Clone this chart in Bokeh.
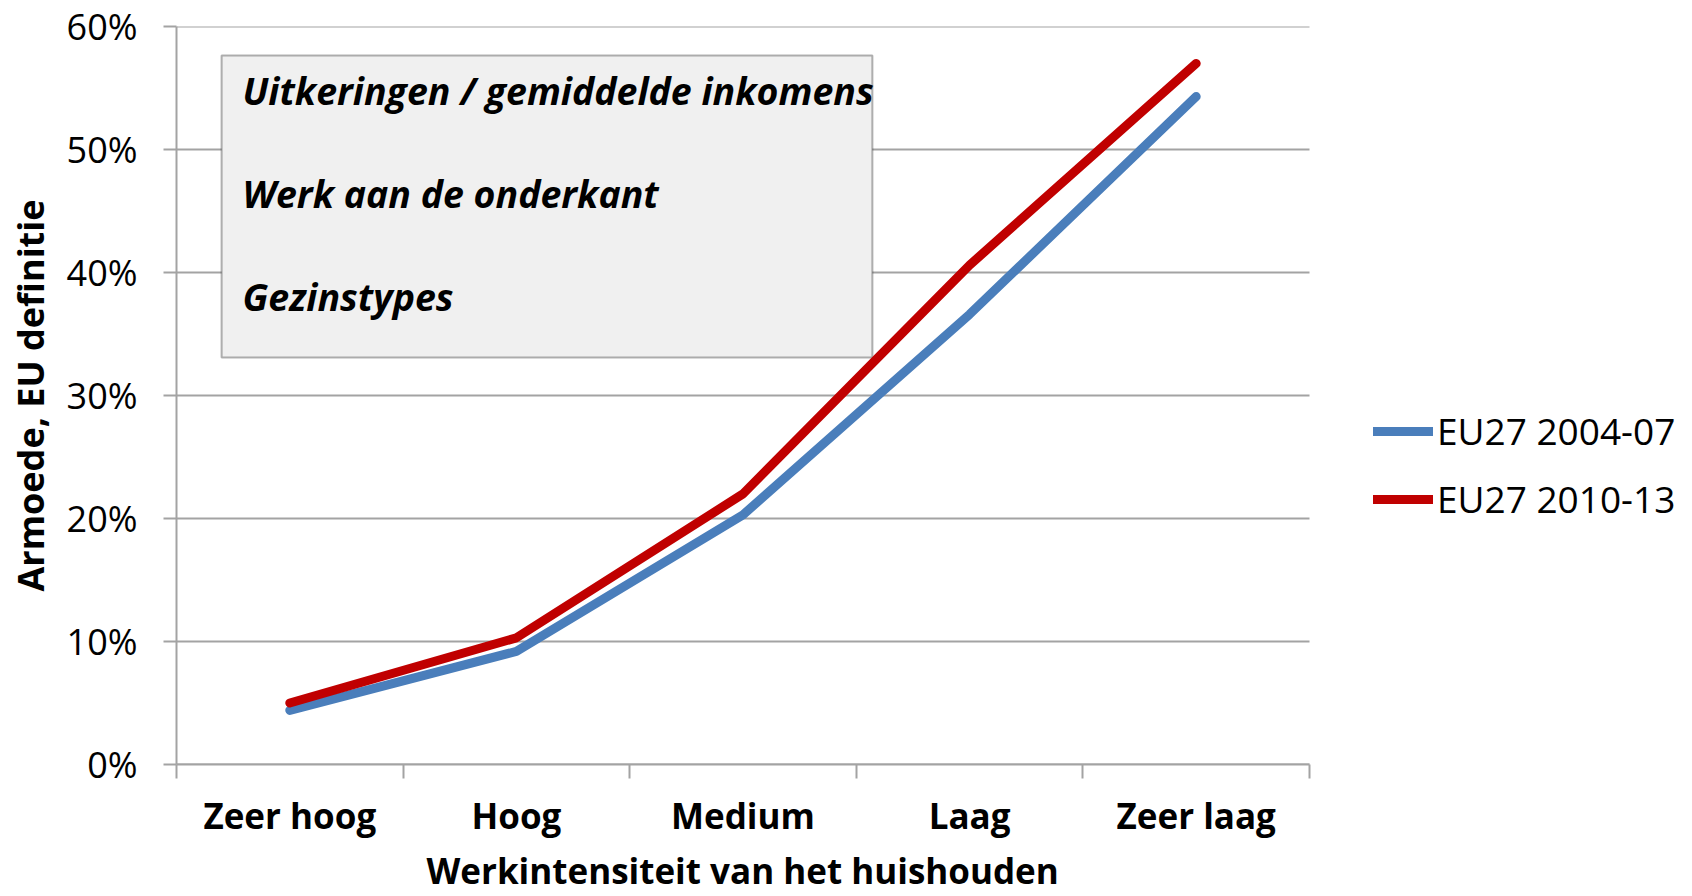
from bokeh.plotting import figure
from bokeh.models import (ColumnDataSource, Range1d, FixedTicker, PrintfTickFormatter,
                          Legend, LegendItem, BoxAnnotation, Label, Title)
from bokeh.embed import file_html
from bokeh.resources import INLINE

# ---------------- data ----------------
categories = ["Zeer hoog", "Hoog", "Medium", "Laag", "Zeer laag"]
series_names = ["EU27 2004-07", "EU27 2010-13"]
eu27_2004_07 = [4.4, 9.2, 20.3, 36.6, 54.3]
eu27_2010_13 = [5.0, 10.3, 22.0, 40.6, 57.0]
y_ticks = [0, 10, 20, 30, 40, 50, 60]
box_lines = ["Uitkeringen / gemiddelde inkomens", "Werk aan de onderkant", "Gezinstypes"]
x_title = "Werkintensiteit van het huishouden"
y_title = "Armoede, EU definitie"

FONT = "Open Sans"
GRID = "#a3a3a3"
BLUE = "#4a7ebb"
RED = "#c00000"

# layout (pixels)
FIG_W, FIG_H = 1692, 896
PLOT_L, PLOT_R = 176, 1309          # horizontal extent of the category area
n = len(categories)
x_end = n + (FIG_W - PLOT_R) * n / (PLOT_R - PLOT_L)   # frame extends under legend

x_pos = [i + 0.5 for i in range(n)]
bounds = list(range(n + 1))

p = figure(width=FIG_W, height=FIG_H, output_backend="svg", toolbar_location=None,
           x_range=Range1d(0, x_end), y_range=Range1d(0, 60),
           min_border_left=PLOT_L, min_border_right=0, min_border_top=26, min_border_bottom=132)
p.outline_line_color = None
p.background_fill_color = "white"

# grid (drawn as segments so it stops at the category area)
p.xgrid.grid_line_color = None
p.ygrid.grid_line_color = None
p.segment(x0=[0] * len(y_ticks), x1=[n] * len(y_ticks), y0=y_ticks, y1=y_ticks,
          line_color=GRID, line_width=2, level="underlay")

# y axis
p.yaxis.ticker = FixedTicker(ticks=y_ticks)
p.yaxis.formatter = PrintfTickFormatter(format="%d%%")
p.yaxis.axis_line_color = GRID
p.yaxis.axis_line_width = 2
p.yaxis.major_tick_line_color = GRID
p.yaxis.major_tick_line_width = 2
p.yaxis.major_tick_out = 13
p.yaxis.major_tick_in = 0
p.yaxis.minor_tick_line_color = None
p.yaxis.major_label_standoff = 26
p.yaxis.major_label_text_font = FONT
p.yaxis.major_label_text_font_size = "36px"
p.yaxis.major_label_text_color = "black"
p.yaxis.axis_label = y_title
p.yaxis.axis_label_text_font = FONT
p.yaxis.axis_label_text_font_style = "bold"
p.yaxis.axis_label_text_font_size = "36px"
p.yaxis.axis_label_text_color = "black"
p.yaxis.axis_label_standoff = 9

# x axis
p.xaxis.bounds = (0, n)
p.xaxis.ticker = FixedTicker(ticks=x_pos, minor_ticks=bounds)
p.xaxis.major_label_overrides = {x: c for x, c in zip(x_pos, categories)}
p.xaxis.axis_line_color = GRID
p.xaxis.axis_line_width = 2
p.xaxis.major_tick_line_color = None
p.xaxis.major_tick_out = 0
p.xaxis.major_tick_in = 0
p.xaxis.minor_tick_line_color = GRID
p.xaxis.minor_tick_line_width = 2
p.xaxis.minor_tick_out = 14
p.xaxis.minor_tick_in = 0
p.xaxis.major_label_standoff = 13
p.xaxis.major_label_text_font = FONT
p.xaxis.major_label_text_font_style = "bold"
p.xaxis.major_label_text_font_size = "35px"
p.xaxis.major_label_text_color = "black"

# x axis title, left-aligned with an offset so it is centred under the categories
p.add_layout(Title(text=x_title, align="left", offset=250, standoff=6,
                   text_font=FONT, text_font_style="bold", text_font_size="35px",
                   text_color="black"), "below")

# lines
src = ColumnDataSource(dict(x=x_pos, a=eu27_2004_07, b=eu27_2010_13))
r1 = p.line("x", "a", source=src, line_color=BLUE, line_width=9, line_cap="round", line_join="round")
r2 = p.line("x", "b", source=src, line_color=RED, line_width=9, line_cap="round", line_join="round")

# annotation box (decoration, placed in plot-area units)
p.add_layout(BoxAnnotation(left=0.199, right=3.071, bottom=33.09, top=57.64,
                           fill_color="#f0f0f0", fill_alpha=1.0,
                           line_color="black", line_width=2, level="underlay"))
for txt, yy in zip(box_lines, [54.76, 46.45, 38.07]):
    p.add_layout(Label(x=0.291, y=yy, text=txt, text_font=FONT, text_font_style="bold italic",
                       text_font_size="37.5px", text_color="black", text_baseline="alphabetic"))

legend = Legend(items=[LegendItem(label=series_names[0], renderers=[r1]),
                       LegendItem(label=series_names[1], renderers=[r2])],
                location=(1197, 240), orientation="vertical",
                glyph_width=60, glyph_height=40, label_standoff=4, spacing=17,
                padding=0, margin=0, border_line_color=None, background_fill_alpha=0,
                label_text_font=FONT, label_text_font_size="37px", label_text_color="black")
p.add_layout(legend, "center")

open("out.html", "w").write(file_html(p, INLINE))
